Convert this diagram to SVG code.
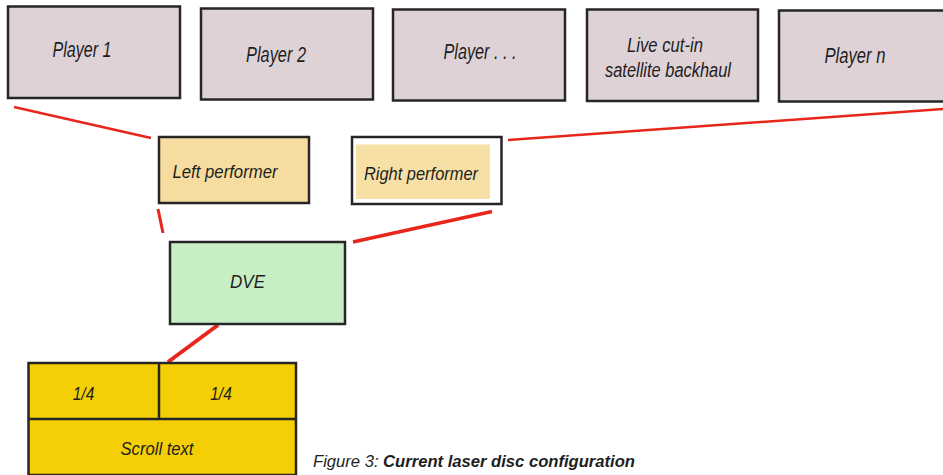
<svg xmlns="http://www.w3.org/2000/svg" width="943" height="475" viewBox="0 0 943 475">
<style>
.player{fill:#ded2d7;stroke:#262626;stroke-width:2.5}
.lbl{font-family:"Liberation Sans",Arial,sans-serif;font-style:italic;fill:#1e1e1e}
.red{stroke:#e8261c;fill:none;stroke-linecap:butt}
</style>
<rect x="0" y="0" width="943" height="475" fill="#ffffff"/>
<g id="connectors">
<line class="red" x1="14" y1="107" x2="151" y2="138" stroke-width="2.5"/>
<line class="red" x1="508" y1="140" x2="943" y2="109" stroke-width="2.5"/>
<line class="red" x1="158" y1="209" x2="163" y2="233" stroke-width="3"/>
<line class="red" x1="492" y1="211.5" x2="353" y2="242" stroke-width="3.5"/>
<line class="red" x1="218" y1="325" x2="168" y2="362" stroke-width="4"/>
</g>
<g id="player1">
<rect class="player" x="8" y="6.5" width="172" height="91.5"/>
<text class="lbl" x="82" y="57" font-size="22" text-anchor="middle" textLength="59" lengthAdjust="spacingAndGlyphs">Player 1</text>
</g>
<g id="player2">
<rect class="player" x="201" y="8.5" width="172" height="91"/>
<text class="lbl" x="276" y="62" font-size="22" text-anchor="middle" textLength="60" lengthAdjust="spacingAndGlyphs">Player 2</text>
</g>
<g id="player3">
<rect class="player" x="393" y="9.5" width="172" height="91"/>
<text class="lbl" x="480" y="59" font-size="22" text-anchor="middle" textLength="73" lengthAdjust="spacingAndGlyphs">Player . . .</text>
</g>
<g id="satellite">
<rect class="player" x="587" y="9.5" width="171" height="91.5"/>
<text class="lbl" x="665" y="52" font-size="20" text-anchor="middle" textLength="76" lengthAdjust="spacingAndGlyphs">Live cut-in</text>
<text class="lbl" x="668" y="77" font-size="20" text-anchor="middle" textLength="126" lengthAdjust="spacingAndGlyphs">satellite backhaul</text>
</g>
<g id="playern">
<rect class="player" x="779" y="10.5" width="170" height="91"/>
<text class="lbl" x="855" y="63" font-size="22" text-anchor="middle" textLength="61" lengthAdjust="spacingAndGlyphs">Player n</text>
</g>
<g id="left-performer">
<rect x="159" y="137" width="150" height="66" fill="#f6dd9f" stroke="#262626" stroke-width="2.5"/>
<text class="lbl" x="225" y="178" font-size="19" text-anchor="middle" textLength="105" lengthAdjust="spacingAndGlyphs">Left performer</text>
</g>
<g id="right-performer">
<rect x="352" y="137" width="149.5" height="67" fill="#ffffff" stroke="#262626" stroke-width="2.5"/>
<rect x="356" y="144.5" width="134" height="54.5" fill="#f7e0a6"/>
<text class="lbl" x="421" y="180" font-size="19" text-anchor="middle" textLength="114" lengthAdjust="spacingAndGlyphs">Right performer</text>
</g>
<g id="dve">
<rect x="170" y="242" width="175" height="82" fill="#c8eec6" stroke="#262626" stroke-width="2.5"/>
<text class="lbl" x="247.5" y="288" font-size="19" text-anchor="middle" textLength="35" lengthAdjust="spacingAndGlyphs">DVE</text>
</g>
<g id="output">
<rect x="28.5" y="363" width="267.5" height="112" fill="#f4cf06" stroke="#262626" stroke-width="2.5"/>
<line x1="28.5" y1="419" x2="296" y2="419" stroke="#262626" stroke-width="2.5"/>
<line x1="159" y1="363" x2="159" y2="419" stroke="#262626" stroke-width="2.5"/>
<text class="lbl" x="83.5" y="400" font-size="19" text-anchor="middle" textLength="21.5" lengthAdjust="spacingAndGlyphs">1/4</text>
<text class="lbl" x="221" y="400" font-size="19" text-anchor="middle" textLength="21.5" lengthAdjust="spacingAndGlyphs">1/4</text>
<text class="lbl" x="157" y="455" font-size="19" text-anchor="middle" textLength="73" lengthAdjust="spacingAndGlyphs">Scroll text</text>
</g>
<text class="lbl" x="313" y="467" font-size="16" textLength="322" lengthAdjust="spacingAndGlyphs">Figure 3: <tspan font-weight="bold">Current laser disc configuration</tspan></text>
</svg>
